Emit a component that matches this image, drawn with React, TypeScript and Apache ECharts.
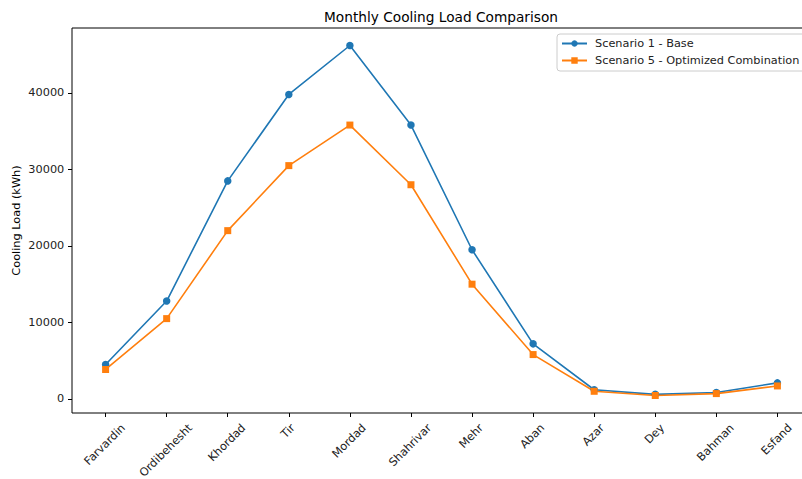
import React, { useEffect, useRef } from 'react';
import * as echarts from 'echarts';

const months = ['Farvardin', 'Ordibehesht', 'Khordad', 'Tir', 'Mordad', 'Shahrivar', 'Mehr', 'Aban', 'Azar', 'Dey', 'Bahman', 'Esfand'];
const scenario1 = [4500, 12800, 28500, 39800, 46200, 35800, 19500, 7200, 1200, 600, 850, 2100];
const scenario5 = [3850, 10500, 22000, 30500, 35800, 28000, 15000, 5800, 1000, 450, 700, 1700];
const yTicks = [0, 10000, 20000, 30000, 40000];
const seriesNames = ['Scenario 1 - Base', 'Scenario 5 - Optimized Combination'];

export default function App() {
  const ref = useRef<HTMLDivElement>(null);
  useEffect(() => {
    document.body.style.margin = '0';
    const chart = echarts.init(ref.current!, null, { renderer: 'svg' });
    const font = 'DejaVu Sans';
    const fs = 11.3;
    const canvas = document.createElement('canvas');
    const ctx = canvas.getContext('2d')!;
    ctx.font = `${fs}px "${font}"`;
    const rich: any = {};
    months.forEach((m, i) => {
      const L = ctx.measureText(m).width;
      const p = (L + fs * 1.17) / 2;
      rich['l' + i] = { fontSize: fs, fontFamily: font, color: '#222', padding: [p, p + 2, 0, 0] };
    });
    const all = scenario1.concat(scenario5);
    const lo = Math.min(...all), hi = Math.max(...all);
    const span = hi - lo;
    const xIdx = months.map((_, i) => i);
    chart.setOption({
      animation: false,
      backgroundColor: '#fff',
      textStyle: { fontFamily: font },
      title: {
        text: 'Monthly Cooling Load Comparison',
        left: 441,
        top: 10,
        padding: 0,
        textAlign: 'center',
        textStyle: { fontSize: 13.7, fontWeight: 'normal', color: '#000', fontFamily: font },
      },
      legend: {
        orient: 'vertical',
        left: 557,
        top: 34,
        padding: [3, 30, 4, 4],
        itemWidth: 25,
        itemHeight: 8,
        itemGap: 4,
        backgroundColor: 'rgba(255,255,255,0.8)',
        borderColor: '#ccc',
        borderWidth: 1,
        borderRadius: 3,
        textStyle: { fontSize: fs, fontFamily: font, color: '#222', lineHeight: 13, padding: [0, 0, 0, 3] },
        data: seriesNames,
      },
      grid: { left: 72, top: 28, right: 1, bottom: 66, show: true, borderColor: '#000', borderWidth: 1, backgroundColor: 'transparent', containLabel: false, outerBoundsMode: 'none' },
      xAxis: {
        type: 'value',
        min: -0.55,
        max: months.length - 1 + 0.55,
        splitLine: { show: false },
        axisLine: { show: false, onZero: false },
        axisTick: { show: true, length: 4, lineStyle: { color: '#000', width: 1 }, customValues: xIdx },
        axisLabel: {
          customValues: xIdx,
          rotate: 45,
          align: 'center',
          verticalAlign: 'middle',
          margin: 7.7,
          formatter: (v: number) => {
            const i = Math.round(v);
            return `{l${i}|${months[i]}}`;
          },
          rich,
        },
      },
      yAxis: {
        type: 'value',
        min: lo - 0.05 * span,
        max: hi + 0.05 * span,
        name: 'Cooling Load (kWh)',
        nameLocation: 'middle',
        nameGap: 50,
        nameMoveOverlap: false,
        nameTextStyle: { fontSize: fs, fontFamily: font, color: '#000' },
        splitLine: { show: false },
        axisLine: { show: false, onZero: false },
        axisTick: { show: true, length: 4, lineStyle: { color: '#000', width: 1 }, customValues: yTicks },
        axisLabel: { customValues: yTicks, margin: 7.7, fontSize: fs, fontFamily: font, color: '#222', formatter: (v: number) => String(Math.round(v)) },
      },
      series: [
        {
          name: seriesNames[0],
          type: 'line',
          data: scenario1.map((v, i) => [i, v]),
          symbol: 'circle',
          symbolSize: 7.5,
          lineStyle: { color: '#1f77b4', width: 1.6 },
          itemStyle: { color: '#1f77b4' },
        },
        {
          name: seriesNames[1],
          type: 'line',
          data: scenario5.map((v, i) => [i, v]),
          symbol: 'rect',
          symbolSize: 7,
          lineStyle: { color: '#ff7f0e', width: 1.6 },
          itemStyle: { color: '#ff7f0e' },
        },
      ],
    });
    return () => chart.dispose();
  }, []);
  return (
    <div style={{ width: 802, height: 479, overflow: 'hidden', position: 'relative' }}>
      <div ref={ref} style={{ width: 812, height: 479 }} />
    </div>
  );
}
